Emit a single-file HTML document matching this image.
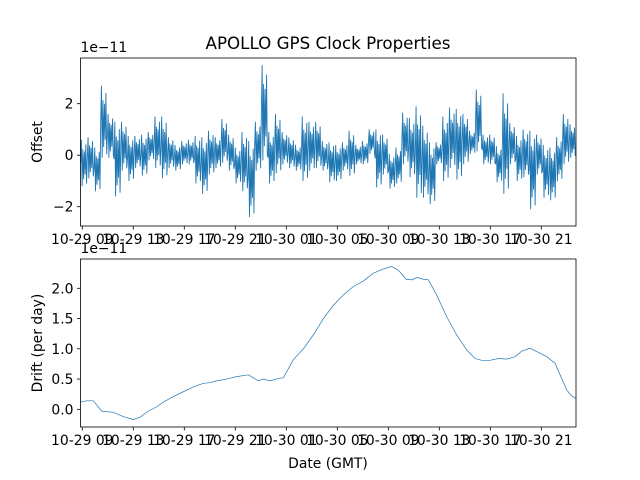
<!DOCTYPE html>
<html><head><meta charset="utf-8"><style>
html,body{margin:0;padding:0;background:#fff;}
svg{display:block;font-family:"DejaVu Sans","Liberation Sans",sans-serif;}
</style></head><body>
<svg id="fig" width="640" height="480" viewBox="0 0 640 480" xmlns="http://www.w3.org/2000/svg">
<rect width="640" height="480" fill="#fff"/>
<text x="328" y="49" font-size="16.7" text-anchor="middle" fill="#000">APOLLO GPS Clock Properties</text>
<g id="top"></g>
<g id="bot"></g>
</svg>
<script>
// x positions in hours since 10-29 00:00
const tickHours = [9,13,17,21,25,29,33,37,41,45];
const tickLabels = ["10-29 09","10-29 13","10-29 17","10-29 21","10-30 01","10-30 05","10-30 09","10-30 13","10-30 17","10-30 21"];
const offsetStart = 8.87;
const offsetStep = 0.525;
const offsetHi = [0.6,0.7,0.3,2.7,1.6,1.3,1.3,0.75,0.75,0.8,0.9,1.5,1.5,0.7,0.4,0.55,0.6,0.75,0.7,0.95,0.7,1.4,0.8,0.3,0.9,0.55,1.3,3.5,0.9,1.6,0.9,0.7,0.4,1.5,1.3,1.3,0.55,
 0.5,0.4,0.5,0.95,0.4,0.55,1.0,1.0,0.8,0.05,0.3,1.65,1.45,1.9,1.15,0.5,0.5,1.5,1.85,1.8,1.6,0.95,2.55,0.8,0.8,0.35,2.4,1.25,0.75,1.0,0.95,0.8,0.4,0.3,0.7,1.6,1.2];
const offsetLo = [-1.2,-0.9,-1.4,-0.1,-0.1,-1.6,-0.6,-1.0,-0.5,-0.8,-0.2,-0.5,-0.9,-0.5,-0.6,-0.35,-0.35,-1.1,-1.5,-0.75,-0.5,-0.3,-0.6,-1.1,-1.4,-2.4,-0.6,-0.2,-1.1,-0.7,-0.35,-0.5,-0.6,-1.0,-0.6,-0.5,-0.6,
 -1.05,-1.0,-0.6,-0.8,-0.35,-0.35,0.05,-1.25,-0.75,-1.3,-1.1,-0.35,-0.85,-1.65,-1.65,-1.9,-0.35,-1.0,-0.5,-0.95,-0.35,0.05,0.15,-0.35,-0.35,-1.05,-1.5,-0.35,-1.0,-0.85,-2.1,-0.75,-1.65,-1.75,-1.0,-0.35,-0.1];
const driftHours = [8.87,9.34,9.87,10.52,11.43,12.22,13.00,13.53,14.18,14.83,15.36,16.14,16.92,17.71,18.49,19.02,19.54,20.32,21.11,22.02,22.81,23.20,23.72,24.38,24.77,25.55,26.34,27.12,27.91,28.69,29.47,30.26,31.04,31.83,32.61,33.26,33.79,34.39,34.83,35.28,35.75,36.14,36.79,37.58,38.36,39.15,39.80,40.32,40.98,41.63,42.28,42.94,43.46,44.12,44.77,45.43,46.08,46.47,46.99,47.38,47.72];
const driftValues = [0.12,0.14,0.14,-0.03,-0.05,-0.12,-0.17,-0.13,-0.03,0.04,0.12,0.21,0.29,0.37,0.43,0.44,0.47,0.50,0.54,0.57,0.47,0.50,0.47,0.51,0.52,0.82,1.0,1.23,1.50,1.72,1.89,2.03,2.12,2.25,2.32,2.36,2.30,2.15,2.14,2.18,2.15,2.14,1.89,1.53,1.23,0.98,0.84,0.81,0.81,0.84,0.83,0.87,0.96,1.01,0.94,0.87,0.76,0.57,0.32,0.22,0.18];
const offsetTicks = [-2,0,2];
const offsetTickLabels = ["\u22122","0","2"];
const driftTicks = [0,0.5,1.0,1.5,2.0];
const driftTickLabels = ["0.0","0.5","1.0","1.5","2.0"];

const NS = "http://www.w3.org/2000/svg";
const XMIN = 8.86, XMAX = 47.72, L = 80.5, R = 576;
function xs(h){ return L + (h - XMIN) / (XMAX - XMIN) * (R - L); }
function ysTop(v){ return 155.2 - v * 25.75; }
function ysBot(v){ return 409.3 - v * 60.5; }
function mk(parent, tag, attrs){ const e = document.createElementNS(NS, tag); for (const k in attrs) e.setAttribute(k, attrs[k]); parent.appendChild(e); return e; }

function axes(g, top, bottom, ys, ticks, labels, ylabel, ylabelName, xlabel){
  // series clip
  for (let i = 0; i < tickHours.length; i++){
    const x = xs(tickHours[i]);
    const t = mk(g, "line", {x1:x, x2:x, y1:bottom, y2:bottom+3.5, stroke:"#000", "stroke-width":0.8});
    
    
    const tx = mk(g, "text", {x:x, y:bottom+18, "font-size":13.9, "text-anchor":"middle", fill:"#000"});
    tx.textContent = tickLabels[i];
    
    
  }
  for (let i = 0; i < ticks.length; i++){
    const y = ys(ticks[i]);
    const t = mk(g, "line", {x1:L-3.5, x2:L, y1:y, y2:y, stroke:"#000", "stroke-width":0.8});
    
    
    const tx = mk(g, "text", {x:L-7, y:y+5, "font-size":13.9, "text-anchor":"end", fill:"#000"});
    tx.textContent = labels[i];
    
    
  }
  const sc = mk(g, "text", {x:L, y:top-6, "font-size":13.9, fill:"#000"});
  sc.textContent = "1e\u221211";
  
  
  const cy = (top + bottom) / 2;
  const yl = mk(g, "text", {x:0, y:0, "font-size":13.9, "text-anchor":"middle", fill:"#000", transform:"translate(42,"+cy+") rotate(-90)"});
  yl.textContent = ylabel;
  
  
  if (xlabel){
    const xl = mk(g, "text", {x:328, y:468, "font-size":13.9, "text-anchor":"middle", fill:"#000"});
    xl.textContent = xlabel;
    
    
  }
  const fr = mk(g, "rect", {x:L, y:top, width:R-L, height:bottom-top, fill:"none", stroke:"#000", "stroke-width":0.8});
  
  
}

const gt = document.getElementById("top");
const gb = document.getElementById("bot");
const defs = mk(document.getElementById("fig"), "defs", {});
const c1 = mk(defs, "clipPath", {id:"c1"}); mk(c1, "rect", {x:L, y:58, width:R-L, height:168});
const c2 = mk(defs, "clipPath", {id:"c2"}); mk(c2, "rect", {x:L, y:259, width:R-L, height:168});

// offset series
let pts = [];
for (let i = 0; i < offsetHi.length; i++){
  const t0 = offsetStart + i * offsetStep;
  const hi = offsetHi[i], lo = offsetLo[i], m = (hi + lo) / 2;
  const seq = [m, hi, lo, m + (hi - m) * 0.6, m + (lo - m) * 0.7, m + (hi - m) * 0.5, m + (lo - m) * 0.5, m + (hi - m) * 0.8, m + (lo - m) * 0.9];
  for (let k = 0; k < seq.length; k++){
    pts.push(xs(t0 + offsetStep * k / seq.length).toFixed(2) + "," + ysTop(seq[k]).toFixed(2));
  }
}
const p1 = mk(gt, "polyline", {points:pts.join(" "), fill:"none", stroke:"#1f77b4", "stroke-width":0.9, "clip-path":"url(#c1)"});


axes(gt, 58, 226, ysTop, offsetTicks, offsetTickLabels, "Offset", "y-axis-title-offset", null);

pts = [];
for (let i = 0; i < driftHours.length; i++) pts.push(xs(driftHours[i]).toFixed(2) + "," + ysBot(driftValues[i]).toFixed(2));
const p2 = mk(gb, "polyline", {points:pts.join(" "), fill:"none", stroke:"#1f77b4", "stroke-width":0.7, "clip-path":"url(#c2)"});


axes(gb, 259, 427, ysBot, driftTicks, driftTickLabels, "Drift (per day)", "y-axis-title-drift", "Date (GMT)");
</script>
</body></html>
